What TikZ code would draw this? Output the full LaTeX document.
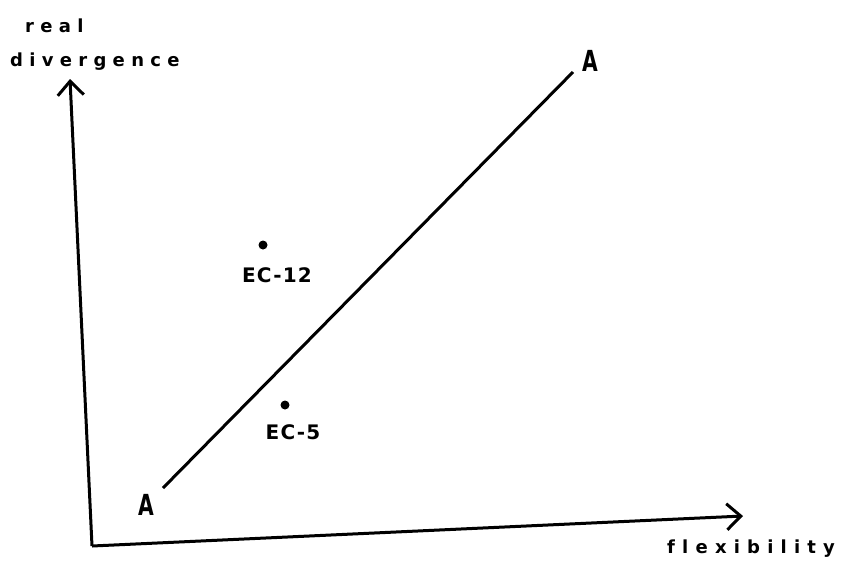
\documentclass[tikz,border=0pt]{standalone}
\usepackage{fontspec}
\newfontfamily\hand[LetterSpace=35,Ligatures={NoCommon}]{DejaVu Sans Bold}
\newfontfamily\handwide[LetterSpace=40,Ligatures={NoCommon}]{DejaVu Sans Bold}
\newfontfamily\handec[LetterSpace=6]{DejaVu Sans Bold}
\usetikzlibrary{arrows.meta}
\begin{document}
\begin{tikzpicture}[x=1pt,y=-1pt,
  axis/.style={line width=3pt,-{Straight Barb[length=14pt,width=26pt,line width=3pt]}},
  ink/.style={line width=3pt},
  lab/.style={font=\hand\fontsize{18}{20}\selectfont, inner sep=0pt},
  labwide/.style={font=\handwide\fontsize{18}{20}\selectfont, inner sep=0pt},
  eclab/.style={font=\handec\fontsize{20}{22}\selectfont, inner sep=0pt},
  alab/.style={font=\handec\fontsize{29}{30}\selectfont, inner sep=0pt},
  dotpt/.style={circle,fill=black,inner sep=0pt,minimum size=9pt}]
\useasboundingbox (0,0) rectangle (848,566);
\coordinate (o) at (92,546);
\coordinate (ytip) at (70,79);
\coordinate (xtip) at (743,516);
\draw[axis] (o) -- (ytip);
\draw[axis] (o) -- (xtip);
\coordinate (a1) at (163,488);
\coordinate (a2) at (573,72);
\draw[ink] (a1) -- (a2);
\node[alab] (la1) at (146,505) {\scalebox{0.7}[1]{A}};
\node[alab] (la2) at (590,61) {\scalebox{0.7}[1]{A}};
\node[dotpt] (p12) at (263,245) {};
\node[eclab] (l12) at (277,275) {EC-12};
\node[dotpt] (p5) at (285,405) {};
\node[eclab] (l5) at (293,432) {EC-5};
\node[lab, anchor=base west] (lreal) at (25,32) {real};
\node[lab, anchor=base west] (ldiv) at (10,66) {divergence};
\node[labwide, anchor=base west] (lflex) at (667,553) {flexibility};
\end{tikzpicture}
\end{document}
